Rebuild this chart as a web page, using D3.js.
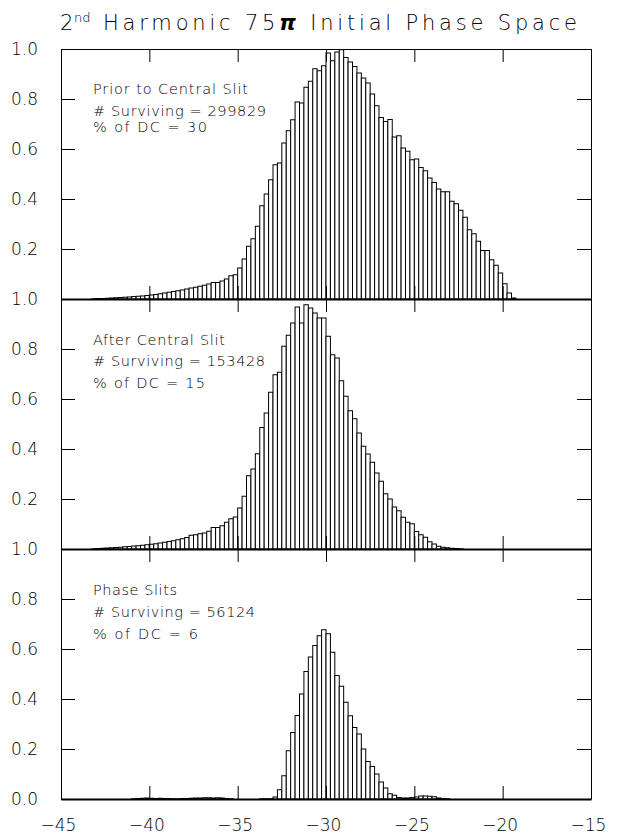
<!DOCTYPE html>
<html>
<head>
<meta charset="utf-8">
<script src="https://cdn.jsdelivr.net/npm/d3@7"></script>
<style>
  body { margin: 0; background: #fff; }
  svg { display: block; background: #fff; }
</style>
</head>
<body>
<svg class="phase-frame"></svg>
<script>
// histogram bins are 0.25 wide, each array starts at the left edge of its first bin
const binWidth = 0.25;

const priorStart = -43.25;
const priorValues = [
  0.001, 0.002, 0.002, 0.003, 0.004, 0.005, 0.006, 0.007, 0.008, 0.010,
  0.011, 0.012, 0.014, 0.016, 0.018, 0.021, 0.024, 0.027, 0.030, 0.033,
  0.036, 0.040, 0.044, 0.047, 0.051, 0.055, 0.060, 0.066, 0.066, 0.072,
  0.080, 0.093, 0.097, 0.124, 0.160, 0.211, 0.241, 0.291, 0.373, 0.420,
  0.477, 0.537, 0.544, 0.624, 0.673, 0.717, 0.788, 0.784, 0.847, 0.871,
  0.921, 0.913, 0.933, 0.984, 0.953, 0.988, 0.997, 0.966, 0.948, 0.930,
  0.904, 0.884, 0.864, 0.820, 0.773, 0.726, 0.710, 0.718, 0.648, 0.653,
  0.604, 0.591, 0.557, 0.560, 0.526, 0.513, 0.484, 0.466, 0.440, 0.429,
  0.429, 0.391, 0.381, 0.355, 0.327, 0.277, 0.261, 0.231, 0.194, 0.194,
  0.157, 0.135, 0.104, 0.061, 0.024, 0.004
];

const afterStart = -43.25;
const afterValues = [
  0.001, 0.002, 0.003, 0.004, 0.005, 0.006, 0.007, 0.009, 0.010, 0.012,
  0.013, 0.015, 0.017, 0.019, 0.021, 0.024, 0.027, 0.030, 0.033, 0.037,
  0.041, 0.046, 0.055, 0.057, 0.061, 0.064, 0.071, 0.086, 0.086, 0.093,
  0.107, 0.121, 0.128, 0.164, 0.211, 0.293, 0.320, 0.381, 0.486, 0.544,
  0.627, 0.697, 0.707, 0.811, 0.855, 0.904, 0.968, 0.904, 0.977, 0.964,
  0.944, 0.924, 0.924, 0.851, 0.777, 0.764, 0.673, 0.611, 0.553, 0.521,
  0.464, 0.411, 0.380, 0.347, 0.304, 0.271, 0.221, 0.200, 0.168, 0.153,
  0.127, 0.107, 0.101, 0.070, 0.057, 0.047, 0.029, 0.020, 0.011, 0.007,
  0.005, 0.003, 0.002, 0.001
];

const slitsStart = -41.0;
const slitsValues = [
  0.001, 0.002, 0.003, 0.004, 0.003, 0.002, 0.003, 0.002, 0.002, 0.001,
  0.001, 0.002, 0.002, 0.003, 0.004, 0.004, 0.005, 0.005, 0.004, 0.005,
  0.004, 0.002, 0.001, 0, 0, 0, 0, 0, 0, 0.001,
  0.001, 0.001, 0.008, 0.037, 0.093, 0.193, 0.266, 0.334, 0.420, 0.510,
  0.568, 0.614, 0.653, 0.677, 0.661, 0.587, 0.494, 0.451, 0.387, 0.333,
  0.286, 0.260, 0.200, 0.150, 0.130, 0.100, 0.068, 0.044, 0.021, 0.015,
  0.006, 0.004, 0.004, 0.006, 0.008, 0.012, 0.012, 0.011, 0.009, 0.004,
  0.002, 0.001
];

const priorText = ["Prior to Central Slit", "# Surviving = 299829", "% of DC = 30"];
const afterText = ["After Central Slit", "# Surviving = 153428", "% of DC = 15"];
const slitsText = ["Phase Slits", "# Surviving = 56124", "% of DC = 6"];

const xTicks = [-45, -40, -35, -30, -25, -20, -15];
const yTicks = [0.2, 0.4, 0.6, 0.8, 1.0];
const yTicksBottom = [0.0, 0.2, 0.4, 0.6, 0.8, 1.0];

const font = "'DejaVu Sans', sans-serif";
const width = 617, height = 836;
const margin = {top: 49, left: 61, right: 26};
const panelHeight = 250;

const svg = d3.select(".phase-frame")
  .attr("width", width)
  .attr("height", height)
  .attr("font-family", font)
  .attr("font-weight", 200);

const xScale = d3.scaleLinear()
  .domain([-45, -15])
  .range([margin.left, width - margin.right]);

const panels = [
  {start: priorStart, values: priorValues, text: priorText,
   textY: [45, 67, 83], textW: [155, 173, 114]},
  {start: afterStart, values: afterValues, text: afterText,
   textY: [46, 67, 89], textW: [132, 172, 112]},
  {start: slitsStart, values: slitsValues, text: slitsText,
   textY: [46, 68, 90], textW: [84, 162, 105]}
];

// title
svg.append("text")
  .attr("x", 60).attr("y", 30)
  .attr("font-size", 21)
  .text("2");
svg.append("text")
  .attr("x", 74).attr("y", 22)
  .attr("font-size", 13)
  .text("nd");
const title = svg.append("text")
  .attr("x", 103).attr("y", 30)
  .attr("font-size", 21)
  .attr("textLength", 474)
  .attr("lengthAdjust", "spacing");
title.append("tspan").text("Harmonic 75");
title.append("tspan").attr("font-weight", "bold").attr("font-style", "italic").text("π");
title.append("tspan").text(" Initial Phase Space");

panels.forEach((p, i) => {
  const top = margin.top + i * panelHeight;
  const last = i === panels.length - 1;

  const yScale = d3.scaleLinear()
    .domain([0, 1])
    .range([top + panelHeight, top]);

  const bins = p.values.map((v, k) => ({x0: p.start + k * binWidth, x1: p.start + (k + 1) * binWidth, v: v}))
    .filter(d => d.v > 0);

  const graph = svg.append("g").attr("class", "panel");

  graph.selectAll("rect")
    .data(bins)
    .enter().append("rect")
    .attr("x", d => xScale(d.x0))
    .attr("width", d => xScale(d.x1) - xScale(d.x0))
    .attr("y", d => yScale(d.v))
    .attr("height", d => yScale(0) - yScale(d.v))
    .style("fill", "white")
    .style("stroke", "black")
    .style("stroke-width", 1);

  // left axis with labels, ticks pointing inward
  graph.append("g")
    .attr("transform", "translate(" + margin.left + ",0)")
    .call(d3.axisLeft(yScale)
      .tickValues(last ? yTicksBottom : yTicks)
      .tickFormat(d3.format(".1f"))
      .tickSizeInner(-14).tickSizeOuter(0).tickPadding(23))
    .call(g => g.selectAll("text")
      .attr("font-size", 17)
      .attr("font-family", font)
      .attr("fill", "black"));

  // right axis, ticks only
  graph.append("g")
    .attr("transform", "translate(" + (width - margin.right) + ",0)")
    .call(d3.axisRight(yScale)
      .tickValues(yTicks)
      .tickFormat("")
      .tickSizeInner(-14).tickSizeOuter(0));

  // top edge ticks
  graph.append("g")
    .attr("transform", "translate(0," + top + ")")
    .call(d3.axisTop(xScale)
      .tickValues(xTicks)
      .tickFormat("")
      .tickSizeInner(-13).tickSizeOuter(0));

  // baseline
  const bottom = graph.append("g")
    .attr("transform", "translate(0," + (top + panelHeight) + ")")
    .call(d3.axisBottom(xScale)
      .tickValues(xTicks)
      .tickFormat(last ? (d => "\u2212" + Math.abs(d)) : "")
      .tickSizeInner(-13).tickSizeOuter(0).tickPadding(20));
  bottom.select(".domain").attr("stroke-width", 2);
  bottom.selectAll("text")
    .attr("font-size", 17)
    .attr("font-family", font)
    .attr("fill", "black")
    .attr("dx", -3);

  // annotation block
  p.text.forEach((line, j) => {
    graph.append("text")
      .attr("x", 93)
      .attr("y", top + p.textY[j])
      .attr("font-size", 14.5)
      .attr("textLength", p.textW[j])
      .attr("lengthAdjust", "spacing")
      .text(line);
  });
});
</script>
</body>
</html>
